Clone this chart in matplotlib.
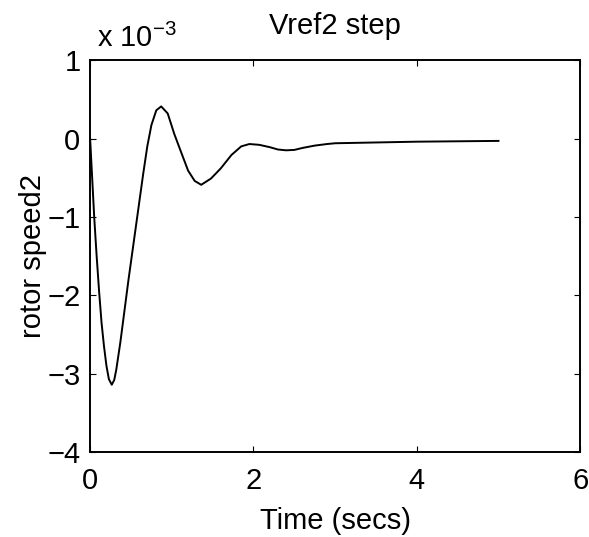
import numpy as np
import matplotlib
matplotlib.use("Agg")
import matplotlib.pyplot as plt

plt.rcParams['font.family'] = ['Liberation Sans', 'DejaVu Sans']
plt.rcParams['mathtext.fontset'] = 'custom'
plt.rcParams['mathtext.rm'] = 'Liberation Sans'

# rotor speed2 response (units of 1e-3)
t = [0, 0.02, 0.05, 0.08, 0.11, 0.14, 0.17, 0.2, 0.23, 0.265, 0.295,
     0.32, 0.37, 0.42, 0.47, 0.53, 0.59, 0.65, 0.7, 0.75, 0.81, 0.87,
     0.95, 1.03, 1.12, 1.2, 1.28, 1.36, 1.48, 1.6, 1.73, 1.85, 1.95, 2.07,
     2.2, 2.3, 2.4, 2.5, 2.6, 2.75, 2.9, 3.0, 3.5, 4.0, 4.5, 5.0]
speed = [0, -0.4, -1.0, -1.5, -1.95, -2.35, -2.65, -2.9, -3.07, -3.14, -3.08,
         -2.95, -2.6, -2.2, -1.8, -1.35, -0.9, -0.45, -0.1, 0.17, 0.36, 0.41,
         0.32, 0.06, -0.19, -0.41, -0.54, -0.59, -0.51, -0.38, -0.21, -0.1, -0.07, -0.08,
         -0.11, -0.14, -0.15, -0.145, -0.12, -0.09, -0.07, -0.06, -0.05, -0.04, -0.035, -0.03]

xticks = [0, 2, 4, 6]
yticks = [-4, -3, -2, -1, 0, 1]
fs = 21

fig = plt.figure(figsize=(5.89, 5.37), dpi=100)
ax = fig.add_axes([0.153, 0.158, 0.832, 0.73])
ax.plot(t, speed, color='black', lw=1.4)
ax.set_xlim(0, 6)
ax.set_ylim(-4, 1)
ax.set_xticks(xticks)
ax.set_yticks(yticks)
ax.set_yticklabels(['\u22124', '\u22123', '\u22122', '\u22121', '0', '1'])
ax.tick_params(direction='in', length=4, labelsize=fs, top=True, right=True)
ax.tick_params(axis='x', pad=11)
ax.tick_params(axis='y', pad=7)
for s in ax.spines.values():
    s.set_linewidth(1.4)
ax.set_xlabel('Time (secs)', fontsize=fs, labelpad=8)
ax.set_ylabel('rotor speed2', fontsize=fs, labelpad=0)
ax.set_title('Vref2 step', fontsize=fs, pad=19)
fig.text(0.165, 0.9125, 'x 10$^{-3}$', fontsize=fs, ha='left', va='baseline')

fig.savefig('out.png', dpi=100)
